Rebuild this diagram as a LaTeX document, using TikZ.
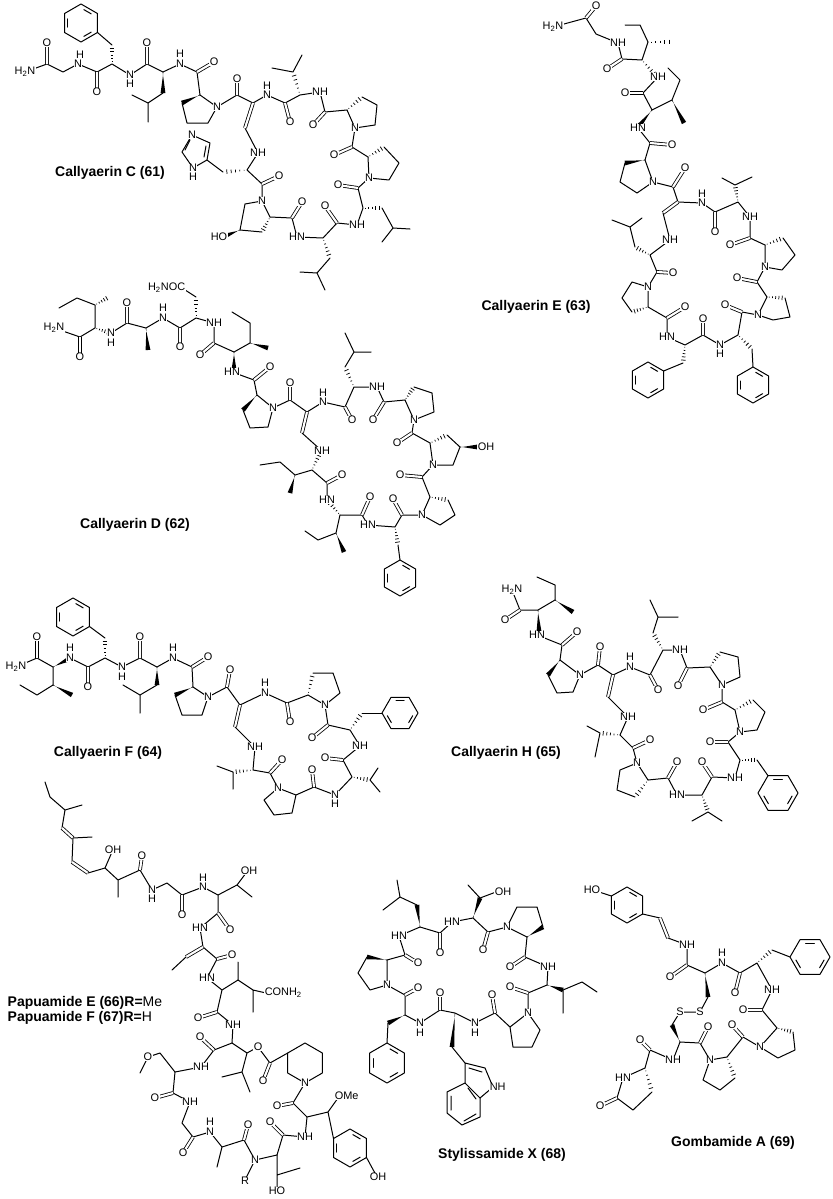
\documentclass[tikz,border=0pt]{standalone}
\usepackage{fontspec}
\setmainfont{Liberation Sans}
\usetikzlibrary{calc}
\newcounter{ac}
\tikzset{
 bd/.style={line width=0.75pt,line cap=round,line join=round},
 db/.style={line width=0.6pt,double,double distance=1.6pt},
 atm/.style={fill=white,inner sep=0.4pt,font=\fontsize{8.2}{8.4}\selectfont},
 ttl/.style={font=\fontsize{10.5}{12}\selectfont\bfseries},
}
\newcommand\At[2]{\stepcounter{ac}\node[atm] (a\arabic{ac}) at (#1) {#2};}
\newcommand\Hs[2]{\foreach \t/\w in {0.12/0.3,0.3/0.65,0.48/1.0,0.66/1.35,0.84/1.7}{\draw[line width=0.55pt] ($(#1)!\t!(#2)!\w pt!90:(#2)$) -- ($(#1)!\t!(#2)!\w pt!-90:(#2)$);}}
\newcommand\Wd[2]{\fill ($(#1)!0.3pt!90:(#2)$) -- ($(#2)!1.8pt!90:(#1)$) -- ($(#2)!1.8pt!-90:(#1)$) -- ($(#1)!0.3pt!-90:(#2)$) -- cycle;}
\newcommand\Hx[4]{\draw[bd] ([shift={(#1,#2)}]#4:#3) -- ([shift={(#1,#2)}]#4+60:#3) -- ([shift={(#1,#2)}]#4+120:#3) -- ([shift={(#1,#2)}]#4+180:#3) -- ([shift={(#1,#2)}]#4+240:#3) -- ([shift={(#1,#2)}]#4+300:#3) -- cycle;}
\newcommand\Bz[4]{\Hx{#1}{#2}{#3}{#4}\pgfmathsetmacro\rr{0.72*#3}\foreach \k in {0,120,240}{\draw[bd] ([shift={(#1,#2)}]#4+\k+12:\rr) -- ([shift={(#1,#2)}]#4+\k+48:\rr);}}
\begin{document}
\begin{tikzpicture}[x=0.75pt,y=-0.75pt]
\fill[white] (0,0) rectangle (832,1199);
\path[use as bounding box] (0,0) rectangle (832,1199);
%% ================= Callyaerin C
\draw[bd] (25,72)--(47,64)--(63,72)--(78,64)--(97,72)--(112,64)--(130,75)--(147,64)--(163,72)--(180,64)--(197,72)--(200,95);
\draw[db] (47,64)--(47,43) (97,72)--(97,92) (147,64)--(147,43) (197,72)--(214,62);
\Hs{112,64}{112,45} \draw[bd] (112,45)--(97.5,32.5);
\Bz{81}{23}{19}{30}
\Wd{163,72}{163,93} \draw[bd] (163,93)--(148,103)--(132,95) (148,103)--(148,122);
\draw[bd] (200,95)--(217,107)--(208,123)--(187,123)--(182,103); \Wd{200,95}{182,103}
\draw[bd] (217,107)--(237,95)--(253,103)--(267,95)--(285,103)--(300,95)--(320,92)--(325,112)--(347,110);
\draw[db] (237,95)--(237,79) (285,103)--(290,122) (325,112)--(313,125);
\Hs{300,95}{293,72} \draw[bd] (293,72)--(272,68) (293,72)--(302,55);
\draw[bd] (362,97)--(377,105)--(375,125)--(355,128)--(347,110); \Hs{347,110}{362,97}
\draw[bd] (355,128)--(352,147)--(368,157); \draw[db] (352,147)--(334,155);
\draw[bd] (384,147)--(399,163)--(389,180)--(369,178)--(368,157); \Hs{368,157}{384,147}
\draw[bd] (369,178)--(358,188)--(363,208)--(357,225)--(337,223)--(323,238)--(297,237)--(292,218)--(270,217);
\draw[db] (358,188)--(338,185) (337,223)--(325,206) (292,218)--(302,202);
\Hs{363,208}{382,208} \draw[bd] (382,208)--(393,228)--(410,229) (393,228)--(382,242);
\Hs{323,238}{330,258} \draw[bd] (330,258)--(317,273)--(300,272) (317,273)--(325,290);
\draw[bd] (270,217)--(262,201)--(245,204)--(240,230)--(262,232); \Hs{270,217}{262,232} \Wd{240,230}{225,236}
\draw[bd] (262,201)--(262,184)--(247,170)--(258,153)--(245,128);
\draw[db] (262,184)--(279,176) (245,128)--(253,103);
\Hs{247,170}{223,172} \draw[bd] (223,172)--(207,160);
\draw[bd] (207,160)--(210,143)--(192,135)--(182,152)--(193,168)--cycle;
\draw[bd] (204,157)--(206,146) (190,140)--(185,150);
\At{25,72}{H\textsubscript{2}N} \At{47,43}{O} \At{97,92}{O} \At{147,43}{O} \At{214,62}{O}
\At{78,64}{N} \At{80,55}{H} \At{130,75}{N} \At{130,84}{H} \At{180,64}{N} \At{180,54}{H}
\At{217,107}{N} \At{237,79}{O} \At{267,95}{N} \At{267,86}{H} \At{290,122}{O} \At{320,92}{NH} \At{313,125}{O}
\At{355,128}{N} \At{334,155}{O} \At{369,178}{N} \At{338,185}{O} \At{357,225}{NH} \At{325,206}{O}
\At{297,237}{HN} \At{302,202}{O} \At{262,201}{N} \At{279,176}{O} \At{258,153}{NH} \At{219,237}{HO}
\At{192,135}{N} \At{193,168}{N} \At{193,177}{H}
\node[ttl] (tC) at (110,173) {Callyaerin C (61)};
%% ================= Callyaerin E
\draw[bd] (553,27)--(586,18)--(596,34)--(618,43)--(622,59)--(642,60)--(648,42);
\draw[db] (586,18)--(596,6) (622,59)--(607,69);
\Hs{648,42}{673,42} \draw[bd] (648,42)--(640,25)--(625,25);
\Hs{642,60}{656,76}
\draw[bd] (658,77)--(643,93)--(652,110)--(672,100)--(680,80)--(668,68);
\draw[db] (643,93)--(625,93);
\Wd{652,110}{639,126} \Wd{672,100}{684,123}
\draw[bd] (638,128)--(650,143)--(645,160); \draw[db] (650,143)--(672,145);
\draw[bd] (625,163)--(620,182)--(637,193)--(653,182)--(645,160); \Wd{645,160}{625,163}
\draw[bd] (653,182)--(673,187)--(678,202)--(702,203)--(715,212)--(738,202)--(750,217)--(750,238)--(765,245);
\draw[db] (673,187)--(685,168) (678,202)--(663,213) (715,212)--(715,232) (750,238)--(730,245);
\draw[bd] (663,213)--(670,240)--(650,255)--(657,272)--(648,287);
\Hs{738,202}{735,185} \draw[bd] (735,185)--(722,178) (735,185)--(752,177);
\draw[bd] (783,238)--(795,255)--(782,270)--(765,267)--(765,245); \Hs{765,245}{783,238}
\draw[bd] (765,267)--(757,282)--(767,297); \draw[db] (757,282)--(737,278);
\draw[bd] (785,298)--(790,317)--(773,320)--(758,315)--(767,297); \Hs{767,297}{785,298}
\draw[bd] (758,315)--(742,312)--(738,335)--(720,345)--(703,335)--(685,345)--(667,337)--(667,318)--(648,307);
\draw[db] (742,312)--(725,305) (703,335)--(703,319) (667,318)--(685,307);
\Hs{738,335}{752,349} \draw[bd] (752,349)--(753,367); \Bz{753}{385}{18}{30}
\Hs{685,345}{683,363} \draw[bd] (683,363)--(663.6,371); \Bz{648}{380}{18}{30}
\draw[bd] (632,312)--(622,298)--(632,282)--(648,287)--(648,307); \Hs{648,307}{632,312}
\draw[db] (657,272)--(673,273);
\Hs{650,255}{635,247} \draw[bd] (635,247)--(630,227)--(612,220) (630,227)--(642,218);
\At{553,27}{H\textsubscript{2}N} \At{596,6}{O} \At{618,43}{NH} \At{607,69}{O} \At{658,77}{NH} \At{625,93}{O}
\At{638,128}{HN} \At{672,145}{O} \At{653,182}{N} \At{685,168}{O} \At{702,203}{N} \At{702,194}{H}
\At{715,232}{O} \At{750,217}{NH} \At{730,245}{O} \At{765,267}{N} \At{737,278}{O} \At{758,315}{N}
\At{725,305}{O} \At{720,345}{N} \At{720,354}{H} \At{703,319}{O} \At{667,337}{HN} \At{685,307}{O}
\At{648,287}{N} \At{673,273}{O} \At{670,240}{NH}
\node[ttl] (tE) at (536,307) {Callyaerin E (63)};
%% ================= Callyaerin D
\draw[bd] (54,328)--(80,337)--(95,328)--(95,305)--(77,298)--(59,308);
\draw[db] (80,337)--(80,357);
\Hs{95,305}{109,297} \Hs{95,328}{110,333}
\draw[bd] (111,333)--(127,323)--(146,328)--(163,318)--(180,328)--(196,318)--(214,323)--(214,343)--(234,352)--(250,343)--(250,323)--(232,312);
\draw[db] (127,323)--(127,303) (180,328)--(180,347) (214,343)--(200,355);
\Wd{146,328}{148,350}
\Hs{196,318}{196,297} \draw[bd] (196,297)--(182,288);
\Wd{234,352}{234,369} \Wd{250,343}{268,348}
\draw[bd] (232,372)--(254,380)--(257,395); \draw[db] (254,380)--(270,367);
\draw[bd] (243,410)--(250,428)--(268,427)--(273,408)--(257,395); \Wd{257,395}{243,410}
\draw[bd] (273,408)--(290,400)--(307,412)--(323,402)--(345,407)--(354,387)--(377,387)--(384,402)--(405,400);
\draw[db] (290,400)--(290,383) (307,412)--(302,433) (345,407)--(352,420) (384,402)--(373,420);
\Hs{354,387}{345,367} \draw[bd] (345,367)--(354,352)--(345,333) (354,352)--(371,352);
\draw[bd] (414,387)--(432,393)--(434,412)--(414,420)--(405,400); \Hs{405,400}{414,387}
\draw[bd] (414,420)--(412,433)--(430,443); \draw[db] (412,433)--(397,443);
\draw[bd] (447,435)--(460,447)--(453,465)--(433,465)--(430,443); \Hs{430,443}{447,435} \Wd{460,447}{477,447}
\draw[bd] (433,465)--(422,477)--(430,497); \draw[db] (422,477)--(400,475);
\draw[bd] (448,500)--(455,515)--(440,525)--(422,515)--(430,497); \Hs{430,497}{448,500}
\draw[bd] (422,515)--(402,515)--(395,527)--(368,525)--(362,515)--(340,515);
\draw[db] (402,515)--(393,499) (362,515)--(370,497);
\Hs{395,527}{398,545} \draw[bd] (398,545)--(400,560); \Bz{400}{578}{18}{30}
\Hs{340,515}{328,501}
\draw[bd] (340,515)--(336,533)--(318,540)--(305,531); \Wd{336,533}{344,552}
\draw[bd] (327,500)--(327,483)--(312,470)--(295,475)--(280,462)--(260,465); \draw[db] (327,483)--(342,475);
\Wd{295,475}{290,493} \Hs{312,470}{320,453}
\draw[bd] (302,433)--(322,451);
\At{54,328}{H\textsubscript{2}N} \At{80,357}{O} \At{111,333}{N} \At{111,343}{H} \At{127,303}{O}
\At{163,318}{N} \At{163,308}{H} \At{180,347}{O}
\node[atm,anchor=east] (dasn) at (186,288) {H\textsubscript{2}NOC};
\At{214,323}{NH} \At{200,355}{O} \At{232,372}{HN} \At{270,367}{O} \At{273,408}{N} \At{290,383}{O}
\At{323,402}{N} \At{323,393}{H} \At{352,420}{O} \At{377,387}{NH} \At{373,420}{O} \At{414,420}{N}
\At{397,443}{O} \At{433,465}{N} \At{486,447}{OH} \At{400,475}{O} \At{422,515}{N} \At{393,499}{O}
\At{368,525}{HN} \At{370,497}{O} \At{327,500}{HN} \At{342,475}{O} \At{322,451}{NH}
\node[ttl] (tD) at (135,525) {Callyaerin D (62)};
%% ================= Callyaerin F
\draw[bd] (16,667)--(37,658)--(53,667)--(53,685)--(37,695)--(20,685);
\draw[db] (37,658)--(37,637);
\Wd{53,667}{69,659} \Wd{53,685}{72,695}
\draw[bd] (70,658)--(88,667)--(105,658)--(122,667)--(140,658)--(157,667)--(173,658)--(192,667)--(193,687);
\draw[db] (88,667)--(88,687) (140,658)--(140,637) (192,667)--(208,657);
\Hs{105,658}{105,638} \draw[bd] (105,638)--(89.5,626.5); \Bz{73}{617}{19}{30}
\Wd{157,667}{157,685} \draw[bd] (157,685)--(140,695)--(123,685) (140,695)--(140,713);
\draw[bd] (175,695)--(182,715)--(202,715)--(208,697)--(193,687); \Wd{193,687}{175,695}
\draw[bd] (208,697)--(227,687)--(240,705)--(265,693)--(287,703)--(308,695);
\draw[db] (227,687)--(230,670) (240,705)--(235,727) (287,703)--(290,722);
\draw[bd] (235,727)--(255,747)--(253,770)--(270,773)--(278,788);
\draw[bd] (313,673)--(333,673)--(340,693)--(325,705)--(308,695); \Hs{308,695}{313,673}
\draw[bd] (325,705)--(328,725)--(350,730)--(360,746)--(343,760)--(352,777)--(335,795)--(314,787)--(296,795);
\draw[db] (328,725)--(312,738) (343,760)--(325,758) (314,787)--(312,770) (270,773)--(282,760);
\Hs{350,730}{362,713} \draw[bd] (362,713)--(382,713); \Bz{400}{713}{18}{0}
\Hs{352,777}{370,780} \draw[bd] (370,780)--(378,768) (370,780)--(380,792);
\draw[bd] (296,795)--(292,813)--(274,815)--(264,800)--(278,788)--cycle;
\Hs{253,770}{233,772} \draw[bd] (233,772)--(217,766) (233,772)--(233,789);
\At{16,667}{H\textsubscript{2}N} \At{37,637}{O} \At{70,658}{N} \At{70,648}{H} \At{88,687}{O}
\At{122,667}{N} \At{122,677}{H} \At{140,637}{O} \At{173,658}{N} \At{173,648}{H} \At{208,657}{O}
\At{208,697}{N} \At{230,670}{O} \At{265,693}{N} \At{265,683}{H} \At{290,722}{O} \At{325,705}{N}
\At{312,738}{O} \At{360,746}{NH} \At{325,758}{O} \At{335,795}{N} \At{335,804}{H} \At{312,770}{O}
\At{278,788}{N} \At{282,760}{O} \At{255,747}{NH}
\node[ttl] (tF) at (108,753) {Callyaerin F (64)};
%% ================= Callyaerin H
\draw[bd] (512,590)--(520,610)--(538,610)--(555,600)--(555,585)--(537,577);
\draw[db] (520,610)--(505,620);
\Wd{538,610}{539,631} \Wd{555,600}{573,612}
\draw[bd] (537,635)--(562,645)--(560,660); \draw[db] (562,645)--(577,632);
\draw[bd] (548,675)--(557,693)--(573,692)--(580,675)--(560,660); \Wd{560,660}{548,675}
\draw[bd] (580,675)--(598,665)--(613,675)--(630,667)--(650,675)--(663,650)--(680,650)--(687,668)--(710,667);
\draw[db] (598,665)--(600,647) (613,675)--(608,697) (650,675)--(658,690) (687,668)--(678,686);
\draw[bd] (608,697)--(628,717)--(620,735);
\Hs{663,650}{653,633} \draw[bd] (653,633)--(658,617)--(650,600) (658,617)--(678,617);
\draw[bd] (720,652)--(738,657)--(740,677)--(722,685)--(710,667); \Hs{710,667}{720,652}
\draw[bd] (722,685)--(722,702)--(735,710); \draw[db] (722,702)--(703,710);
\draw[bd] (753,700)--(765,712)--(757,730)--(740,732)--(735,710); \Hs{735,710}{753,700}
\draw[bd] (740,732)--(728,742)--(740,760)--(735,778)--(712,777)--(702,795)--(677,795)--(668,778)--(648,780);
\draw[db] (728,742)--(710,742) (712,777)--(702,762) (668,778)--(677,762);
\Hs{740,760}{757,760} \draw[bd] (757,760)--(768,775.7); \Bz{778}{793}{20}{0}
\Hs{702,795}{708,812} \draw[bd] (708,812)--(692,821) (708,812)--(722,821);
\draw[bd] (635,797)--(617,790)--(620,770)--(637,763)--(648,780); \Hs{648,780}{635,797}
\draw[bd] (637,763)--(633,748)--(620,735); \draw[db] (633,748)--(650,740);
\Hs{620,735}{600,733} \draw[bd] (600,733)--(587,726) (600,733)--(595,757);
\At{512,590}{H\textsubscript{2}N} \At{505,620}{O} \At{537,635}{HN} \At{577,632}{O} \At{580,675}{N}
\At{600,647}{O} \At{630,667}{N} \At{630,657}{H} \At{658,690}{O} \At{680,650}{NH} \At{678,686}{O}
\At{722,685}{N} \At{703,710}{O} \At{740,732}{N} \At{710,742}{O} \At{735,778}{NH} \At{702,762}{O}
\At{677,795}{HN} \At{677,762}{O} \At{637,763}{N} \At{650,740}{O} \At{628,717}{NH}
\node[ttl] (tH) at (506,753) {Callyaerin H (65)};
%% ================= Papuamide
\draw[bd] (45,782)--(50,797)--(65,810)--(82,805) (65,810)--(62,828);
\draw[db] (62,828)--(73,838);
\draw[bd] (73,838)--(92,837) (73,838)--(72,862);
\draw[db] (72,862)--(88,873);
\draw[bd] (88,873)--(105,868)--(112,852) (105,868)--(118,880)--(118,897) (118,880)--(140,870)--(152,890)--(167,883)--(182,895)--(203,887)--(218,895)--(237,885)--(246,873) (237,885)--(252,897);
\draw[db] (140,870)--(142,856) (182,895)--(182,915);
\draw[bd] (218,895)--(218,913)--(200,928)--(203,947)--(217,959)--(207,978)--(222,990)--(238,980)--(238,962) (238,980)--(253,990)--(253,1012) (253,990)--(266,993);
\draw[db] (218,913)--(230,930) (203,947)--(186,957) (217,959)--(232,955);
\draw[bd] (186,957)--(172,970);
\draw[bd] (222,990)--(217,1012)--(233,1025)--(232,1043)--(214,1050)--(201,1067)--(175,1072)--(173,1093)--(190,1102)--(182,1123)--(193,1137)--(210,1132)--(222,1147)--(244,1140)--(255,1160)--(277,1155)--(283,1135)--(305,1137)--(307,1117)--(293,1103)--(305,1083);
\draw[db] (217,1012)--(198,1018) (214,1050)--(200,1037) (173,1093)--(155,1098) (193,1137)--(183,1153) (244,1140)--(248,1125) (283,1135)--(270,1122) (293,1103)--(277,1106);
\draw[bd] (175,1072)--(160,1053)--(148,1057)--(140,1073);
\draw[bd] (222,1147)--(217,1167) (255,1160)--(245,1180);
\draw[bd] (277,1155)--(277,1175)--(277,1190) (277,1175)--(300,1168);
\draw[bd] (232,1043)--(247,1053)--(258,1047)--(270,1063)--(287.7,1053);
\draw[db] (270,1063)--(263,1081);
\draw[bd] (247,1053)--(242,1072)--(222,1077) (242,1072)--(250,1092);
\Hx{305}{1063}{20}{30}
\draw[bd] (307,1117)--(328,1112)--(338,1098) (328,1112)--(333.5,1138.5);
\Bz{350}{1148}{19}{30}
\draw[bd] (366.5,1157.5)--(376,1175);
\At{113,850}{OH} \At{142,856}{O} \At{152,890}{N} \At{152,899}{H} \At{182,915}{O} \At{203,887}{N}
\At{203,878}{H} \At{249,871}{OH} \At{230,930}{O} \At{200,928}{HN} \At{232,955}{O} \At{207,978}{HN}
\node[atm,anchor=west] (pcon) at (264,993) {CONH\textsubscript{2}};
\At{198,1018}{O} \At{233,1025}{NH} \At{200,1037}{O} \At{201,1067}{NH} \At{148,1057}{O} \At{155,1098}{O}
\At{190,1102}{NH} \At{183,1153}{O} \At{210,1132}{N} \At{210,1122}{H} \At{248,1125}{O} \At{255,1160}{N}
\At{245,1181}{R} \At{277,1191}{HO} \At{270,1122}{O} \At{305,1137}{NH} \At{277,1106}{O} \At{305,1083}{N}
\At{258,1047}{O} \At{263,1081}{O}
\node[atm,anchor=west] (pome) at (334,1096) {OMe};
\At{378,1177}{OH}
\node[ttl,anchor=west] (tP1) at (3,1003) {Papuamide E (66)R=\mdseries Me};
\node[ttl,anchor=west] (tP2) at (3,1018) {Papuamide F (67)R=\mdseries H};
%% ================= Stylissamide X
\Wd{420,927}{417,905}
\draw[bd] (417,905)--(400,897)--(397,880) (400,897)--(383,910);
\draw[bd] (399,936)--(420,927)--(440,933)--(452,922)--(473,918)--(488,932)--(507,927);
\draw[db] (440,933)--(440,953) (488,932)--(483,950);
\Wd{473,918}{480,898} \draw[bd] (480,898)--(468,885) (480,898)--(496,892);
\draw[bd] (507,927)--(517,907)--(537,907)--(543,927) (507,927)--(527,937); \Wd{527,937}{543,927}
\draw[bd] (527,937)--(525,957)--(548,967)--(547,985)--(528,993)--(528,1013);
\draw[db] (525,957)--(510,967) (528,993)--(510,987);
\Wd{547,985}{563,990} \draw[bd] (563,990)--(563,1013) (563,990)--(582,982)--(597,992);
\draw[bd] (528,1013)--(540,1030)--(532,1047)--(513,1047)--(510,1027)--cycle;
\draw[bd] (510,1027)--(495,1013)--(475,1023)--(455,1013)--(440,1010)--(420,1023)--(405,1015)--(405,995)--(387,985);
\draw[db] (495,1013)--(492,995) (440,1010)--(440,993) (405,995)--(418,988);
\Wd{455,1013}{452,1047} \draw[bd] (452,1047)--(465,1063);
\draw[bd] (465,1063)--(485,1068)--(493,1087)--(480,1098)--(465,1083)--cycle;
\draw[bd] (469,1068)--(482,1072);
\draw[bd] (465,1083)--(447,1092)--(447,1113)--(462,1125)--(480,1117)--(480,1098);
\draw[bd] (451,1096)--(451,1110) (464,1121)--(476,1114) (468,1088)--(476,1099);
\Wd{405,1015}{388,1023} \draw[bd] (388,1023)--(387,1043); \Bz{387}{1063}{20}{30}
\draw[bd] (387,985)--(370,990)--(358,973)--(367,957) (387,985)--(387,960); \Wd{387,960}{367,957}
\draw[bd] (387,960)--(405,955)--(399,936); \draw[db] (405,955)--(418,963);
\At{399,936}{HN} \At{440,953}{O} \At{452,922}{HN} \At{503,892}{OH} \At{483,950}{O} \At{507,927}{N}
\At{510,967}{O} \At{548,967}{NH} \At{510,987}{O} \At{528,1013}{N} \At{492,995}{O} \At{475,1023}{N}
\At{475,1033}{H} \At{440,993}{O} \At{420,1023}{N} \At{420,1033}{H} \At{418,988}{O} \At{387,985}{N} \At{418,963}{O}
\node[atm,anchor=west] (sNH) at (489,1087) {NH};
\node[ttl] (tS) at (502,1155) {Stylissamide X (68)};
%% ================= Gombamide A
\Bz{627}{905}{18}{30}
\draw[bd] (611.4,896)--(596,891);
\draw[bd] (642.6,914)--(660,918); \draw[db] (660,918)--(668,938);
\draw[bd] (668,938)--(687,945)--(687,965)--(705,973)--(722,963)--(740,973)--(757,963)--(772,990)--(762,1010)--(777,1028);
\draw[db] (687,965)--(670,977) (740,973)--(735,993) (762,1010)--(743,1010);
\Wd{705,973}{708,997} \draw[bd] (708,997)--(700,1012)--(680,1012)--(672,1025); \Wd{680,1042}{672,1025}
\Hs{757,963}{772,950} \draw[bd] (772,950)--(790,957); \Bz{810}{957}{20}{0}
\draw[bd] (793,1032)--(795,1050)--(778,1058)--(760,1047)--(777,1028); \Hs{777,1028}{793,1032}
\draw[bd] (760,1047)--(743,1037)--(727,1057); \draw[db] (743,1037)--(732,1025);
\draw[bd] (735,1078)--(720,1090)--(703,1080)--(710,1060)--(727,1057); \Hs{727,1057}{735,1078}
\draw[bd] (710,1060)--(700,1043)--(680,1042)--(673,1060)--(650,1050)--(645,1068);
\draw[db] (700,1043)--(708,1027) (650,1050)--(640,1040);
\draw[bd] (645,1068)--(623,1078)--(617,1098)--(633,1110)--(652,1092); \Hs{645,1068}{652,1092}
\draw[db] (617,1098)--(600,1106);
\At{592,890}{HO} \At{687,945}{NH} \At{670,977}{O} \At{722,963}{N} \At{722,953}{H} \At{735,993}{O}
\At{772,990}{NH} \At{743,1010}{O} \At{700,1012}{S} \At{680,1012}{S} \At{760,1047}{N} \At{732,1025}{O}
\At{710,1060}{N} \At{708,1027}{O} \At{673,1060}{NH} \At{640,1040}{O} \At{623,1078}{HN} \At{600,1106}{O}
\node[ttl] (tG) at (733,1143) {Gombamide A (69)};
\end{tikzpicture}
\end{document}
